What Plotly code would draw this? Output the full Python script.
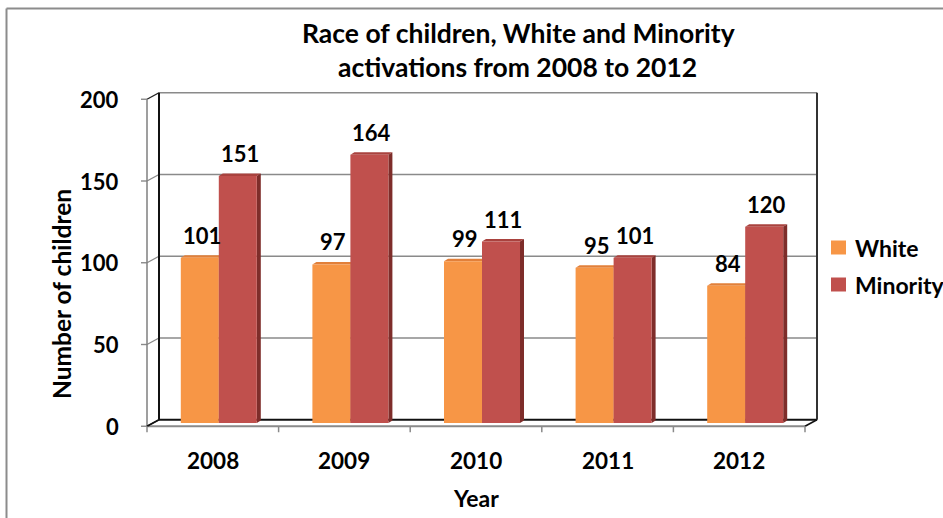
import plotly.graph_objects as go

# ---- data -------------------------------------------------------------
years = ["2008", "2009", "2010", "2011", "2012"]
white = [101, 97, 99, 95, 84]
minority = [151, 164, 111, 101, 120]
y_ticks = [0, 50, 100, 150, 200]
y_max = 200

series_names = ["White", "Minority"]
colors = {"White": "#F79646", "Minority": "#C0504D"}
top_colors = {"White": "#E2803A", "Minority": "#A9423E"}
side_colors = {"White": "#C8702F", "Minority": "#7E2D2A"}

# ---- geometry of the pseudo-3D box (pixels) ---------------------------
W, H = 943, 518
L, R, T, B = 153, 811, 96, 423      # middle plane = plotting area
DX, DY = 12, 6.5                     # full depth of the box
n = len(years)
ux = (R - L) / n                     # px per category
uy = (B - T) / y_max                 # px per unit value
bar_w = 38 / ux                      # bar width in category units
dxu, dyu = 4 / ux, 2.5 / uy          # bar depth in data units

FONT = "Lato"
GRID = "#8A8A8A"


# paper coordinates are relative to the plotting area
def PX(x):
    return (x - L) / (R - L)


def PY(y):
    return (B - y) / (B - T)


def y_front(v):
    return B - v * uy + DY / 2


def y_back(v):
    return B - v * uy - DY / 2


XF0, XF1 = L - DX / 2, R - DX / 2    # front edge x-range
XB0, XB1 = L + DX / 2, R + DX / 2    # back wall x-range

shapes = []


def line(x0, y0, x1, y1, color, width, layer="below"):
    shapes.append(dict(type="line", xref="paper", yref="paper",
                       x0=PX(x0), y0=PY(y0), x1=PX(x1), y1=PY(y1),
                       line=dict(color=color, width=width), layer=layer))


# outer chart border
line(6.5, 8.5, W + 5, 8.5, "#8C8C8C", 2, "above")
line(6.5, 8.5, 6.5, H + 5, "#8C8C8C", 2, "above")

# back wall: gridlines, top edge, floor, and depth connectors
for v in y_ticks:
    yb, yf = y_back(v), y_front(v)
    if v == 0:
        line(XB0, yb, XB1, yb, "#111111", 2)
    else:
        line(XB0, yb, XB1, yb, GRID, 1.6)
    edge = "#222222" if v in (0, y_max) else GRID
    line(XF0, yf, XB0, yb, edge, 1.4)
    line(XF0 - 6, yf, XF0, yf, GRID, 1.4)

line(XB0, y_back(0), XB0, y_back(y_max), "#111111", 2)
line(XB1, y_back(0), XB1, y_back(y_max), "#333333", 2)
line(XF0, y_front(0), XF0, y_front(y_max), "#7F7F7F", 1.5)

# bar top and side faces (depth of each column)
offsets = {"White": -bar_w, "Minority": 0.0}
values = {"White": white, "Minority": minority}
for name in series_names:
    for i, v in enumerate(values[name]):
        xl = i + offsets[name]
        xr = xl + bar_w
        shapes.append(dict(
            type="path", xref="x", yref="y", layer="below",
            path=f"M {xl},{v} L {xr},{v} L {xr + dxu},{v + dyu} "
                 f"L {xl + dxu},{v + dyu} Z",
            fillcolor=top_colors[name], line=dict(width=0)))
        shapes.append(dict(
            type="path", xref="x", yref="y", layer="below",
            path=f"M {xr},0 L {xr},{v} L {xr + dxu},{v + dyu} "
                 f"L {xr + dxu},{dyu} Z",
            fillcolor=side_colors[name], line=dict(width=0)))

# front floor edge with category ticks
line(XF0, y_front(0), XF1, y_front(0), "#8A8A8A", 2, "above")
line(XF1, y_front(0), XB1, y_back(0), "#111111", 1.6, "above")
line(XF0, y_front(0), XB0, y_back(0), "#111111", 1.6, "above")
for k in range(n + 1):
    xk = XF0 + k * ux
    line(xk, y_front(0), xk, y_front(0) + 6, "#8A8A8A", 1.5, "above")

# ---- traces -------------------------------------------------------------
xs = list(range(n))
fig = go.Figure()
for name in series_names:
    fig.add_trace(go.Bar(
        x=xs, y=values[name], name=name, width=bar_w, offset=offsets[name],
        marker=dict(color=colors[name], line=dict(width=0)),
        showlegend=False, hoverinfo="skip"))

# ---- text ---------------------------------------------------------------
ann = []


def text(x, y, s, size, xanchor="center", yanchor="middle", textangle=0,
         xref="paper", yref="paper", yshift=0):
    ann.append(dict(x=x, y=y, xref=xref, yref=yref, text=s, showarrow=False,
                    xanchor=xanchor, yanchor=yanchor, textangle=textangle,
                    yshift=yshift,
                    font=dict(family=FONT, size=size, color="#000000",
                              weight="bold")))


# value labels above each column
for name in series_names:
    for i, v in enumerate(values[name]):
        xc = i + offsets[name] + bar_w / 2 + 2 / ux
        text(xc, v, str(v), 22, yanchor="bottom", xref="x", yref="y",
             yshift=7)

# value-axis labels
for v in y_ticks:
    text(PX(121), PY(y_front(v)), str(v), 22, xanchor="right")

# category labels
for i, yr in enumerate(years):
    text(PX(XF0 + (i + 0.5) * ux), PY(460), yr, 22.5)

text(PX(476), PY(498.5), "Year", 23)
text(PX(61), PY(294), "Number of children", 24.5, textangle=-90)

text(PX(518), PY(33), "Race of children, White and Minority", 26.5)
text(PX(517), PY(67.5), "activations from 2008 to 2012", 26.5)

# legend
for name, yc in (("White", 247.5), ("Minority", 284.5)):
    shapes.append(dict(type="rect", xref="paper", yref="paper",
                       x0=PX(831), x1=PX(846), y0=PY(yc - 7), y1=PY(yc + 7),
                       fillcolor=colors[name], line=dict(width=0),
                       layer="above"))
    text(PX(853), PY(yc), name, 23, xanchor="left")

fig.update_layout(
    width=W, height=H,
    margin=dict(l=L, r=W - R, t=T, b=H - B, pad=0),
    paper_bgcolor="#FFFFFF", plot_bgcolor="rgba(0,0,0,0)",
    barmode="overlay",
    xaxis=dict(range=[-0.5, n - 0.5], visible=False, fixedrange=True),
    yaxis=dict(range=[0, y_max], visible=False, fixedrange=True),
    shapes=shapes, annotations=ann, showlegend=False,
)

fig.write_html("out.html")
